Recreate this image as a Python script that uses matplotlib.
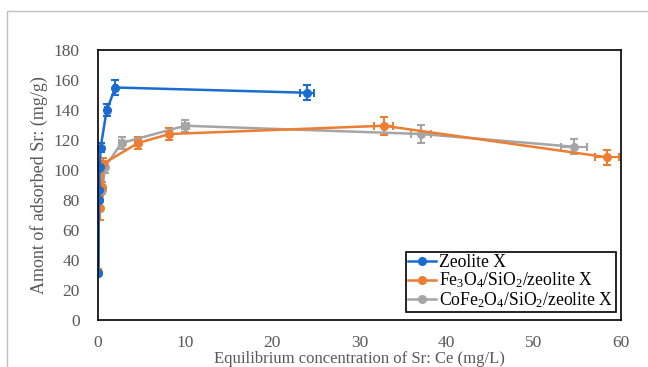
import matplotlib.pyplot as plt
from matplotlib.patches import Rectangle

plt.rcParams['font.family'] = ['Liberation Serif', 'DejaVu Serif']
plt.rcParams['mathtext.fontset'] = 'custom'
plt.rcParams['mathtext.rm'] = 'Liberation Serif'
plt.rcParams['mathtext.it'] = 'Liberation Serif:italic'

# Zeolite X
zx_x = [0.05, 0.1, 0.15, 0.2, 0.3, 1.0, 2.0, 24.0]
zx_y = [31.5, 80, 86.5, 102, 115, 140, 155, 151.5]
zx_yerr = [2, 2, 2, 3, 3, 4, 5, 5]
zx_xerr = [0, 0, 0, 0, 0, 0.2, 0.2, 0.8]

# Fe3O4/SiO2/zeolite X
fe_x = [0.05, 0.1, 0.25, 0.46, 0.55, 4.6, 8.2, 32.8, 58.4]
fe_y = [32, 80, 74.5, 89, 104, 118, 124, 129.5, 108.5]
fe_yerr = [2, 2, 8, 3, 4, 4, 4, 6, 5]
fe_xerr = [0, 0, 0, 0.1, 0.1, 0.3, 0.3, 1.1, 1.4]

# CoFe2O4/SiO2/zeolite X
co_x = [0.05, 0.1, 0.5, 0.8, 2.7, 10.0, 37.1, 54.6]
co_y = [31.5, 80, 87, 102, 118, 129.5, 124, 115.5]
co_yerr = [2, 2, 3, 4, 4, 4, 6, 5]
co_xerr = [0, 0, 0.1, 0.1, 0.3, 0.4, 1.15, 1.5]

fig = plt.figure(figsize=(6.48, 3.67), dpi=100)
fig.patches.append(Rectangle((7 / 648, -0.1), 1.0, 1 - 11 / 367 + 0.1, transform=fig.transFigure,
                             fill=False, edgecolor='#c0c0c0', linewidth=1.0))
ax = fig.add_axes([98 / 648, 1 - 320 / 367, (621 - 98) / 648, (320 - 50) / 367])

series = [
    (co_x, co_y, co_xerr, co_yerr, '#a5a5a5', 'CoFe$_2$O$_4$/SiO$_2$/zeolite X'),
    (fe_x, fe_y, fe_xerr, fe_yerr, '#ed7d31', 'Fe$_3$O$_4$/SiO$_2$/zeolite X'),
    (zx_x, zx_y, zx_xerr, zx_yerr, '#1a6cd0', 'Zeolite X'),
]
handles = {}
for x, y, xe, ye, c, lab in series:
    h = ax.errorbar(x, y, xerr=xe, yerr=ye, color=c, marker='o', markersize=5.5,
                    linewidth=1.8, elinewidth=1.5, capsize=3, capthick=1.5, label=lab)
    handles[lab] = h

order = ['Zeolite X', 'Fe$_3$O$_4$/SiO$_2$/zeolite X', 'CoFe$_2$O$_4$/SiO$_2$/zeolite X']
leg = ax.legend([handles[k][0] for k in order], order, loc='lower right', fontsize=12.7,
                frameon=True, fancybox=False, edgecolor='black', framealpha=1,
                borderpad=0.12, labelspacing=-0.02, handlelength=1.6, handletextpad=0.2,
                borderaxespad=0, bbox_to_anchor=(0.99, 0.03))
leg.get_frame().set_linewidth(1.2)

ax.set_xlim(0, 60)
ax.set_ylim(0, 180)
ax.set_xticks(range(0, 61, 10))
ax.set_yticks(range(0, 181, 20))
ax.tick_params(length=0, labelsize=12.5, labelcolor='#595959')
ax.tick_params(axis='y', pad=13)
ax.tick_params(axis='x', pad=11)
for s in ax.spines.values():
    s.set_linewidth(1.2)
    s.set_color('black')

ax.set_xlabel('Equilibrium concentration of Sr: Ce (mg/L)', fontsize=12, color='#595959', labelpad=0)
ax.set_ylabel('Amont of adsorbed Sr: (mg/g)', fontsize=13, color='#595959', labelpad=4)

fig.savefig('out.png', dpi=100)
